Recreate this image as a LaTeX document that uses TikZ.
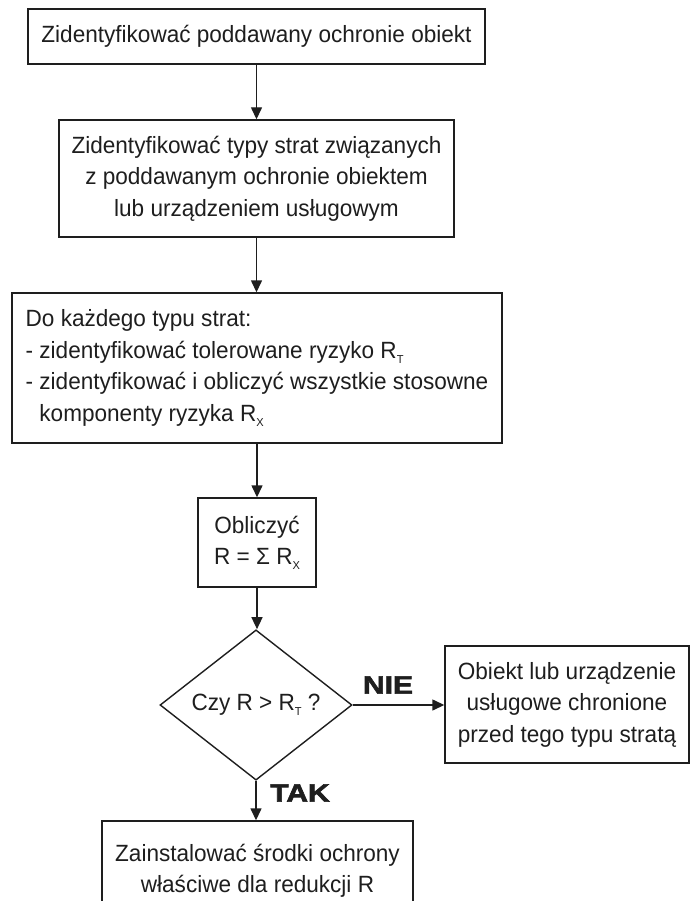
\documentclass[tikz,border=0pt]{standalone}
\usepackage{fontspec}
\setmainfont{Liberation Sans}[FakeStretch=0.96]
\newfontfamily\heavyfont{Liberation Sans Bold}[FakeBold=2.5,FakeStretch=1.2]
\usetikzlibrary{arrows.meta,shapes.geometric}
\definecolor{ink}{HTML}{1E1E1E}
\newcommand\subs[1]{\raisebox{-0.2em}{\fontsize{11.5}{11.5}\selectfont #1}}
\tikzset{
  box/.style={draw=ink, line width=1.4pt, fill=white, align=center, inner sep=0pt,
    font=\fontsize{23.5}{31.5}\selectfont, text=ink},
  arr/.style={draw=ink, line width=1.4pt, -{Triangle[length=12pt,width=11pt]}},
  lbl/.style={font=\heavyfont\fontsize{25}{25}\selectfont, text=ink, inner sep=0pt}
}
\begin{document}
\begin{tikzpicture}[x=1pt,y=-1pt]
\fill[white] (0,0) rectangle (690,901);
\useasboundingbox (0,0) rectangle (690,901);
\node[box, minimum width=457, minimum height=55] (b1) at (256.5,36.5)
  {Zidentyfikować poddawany ochronie obiekt};
\node[box, minimum width=395, minimum height=117] (b2) at (256.5,178.5)
  {Zidentyfikować typy strat związanych\\z poddawanym ochronie obiektem\\lub urządzeniem usługowym};
\node[box, minimum width=490, minimum height=150, align=left] (b3) at (257,368)
  {Do każdego typu strat:\\- zidentyfikować tolerowane ryzyko R\subs{T}\\- zidentyfikować i obliczyć wszystkie stosowne\\\hphantom{- }komponenty ryzyka R\subs{X}};
\node[box, minimum width=118, minimum height=89] (b4) at (257,542.5)
  {Obliczyć\\R = Σ R\subs{X}};
\node[box, shape=diamond, minimum width=192, minimum height=122] (d) at (256,705)
  {Czy R > R\subs{T} ?};
\node[box, minimum width=244, minimum height=117] (no) at (567,704.5)
  {Obiekt lub urządzenie\\usługowe chronione\\przed tego typu stratą};
\node[box, minimum width=311, minimum height=100] (b5) at (257.5,871)
  {Zainstalować środki ochrony\\właściwe dla redukcji R};
\draw[arr] (b1.south) -- (b1.south |- b2.north);
\draw[arr] (b2.south) -- (b2.south |- b3.north);
\draw[arr] (b3.south) -- (b3.south |- b4.north);
\draw[arr] (b4.south) -- (b4.south |- d.north);
\draw[arr] (d.east) -- (d.east -| no.west);
\draw[arr] (d.south) -- (d.south |- b5.north);
\node[lbl] (nie) at (388,685) {NIE};
\node[lbl] (tak) at (300,793) {TAK};
\end{tikzpicture}
\end{document}
